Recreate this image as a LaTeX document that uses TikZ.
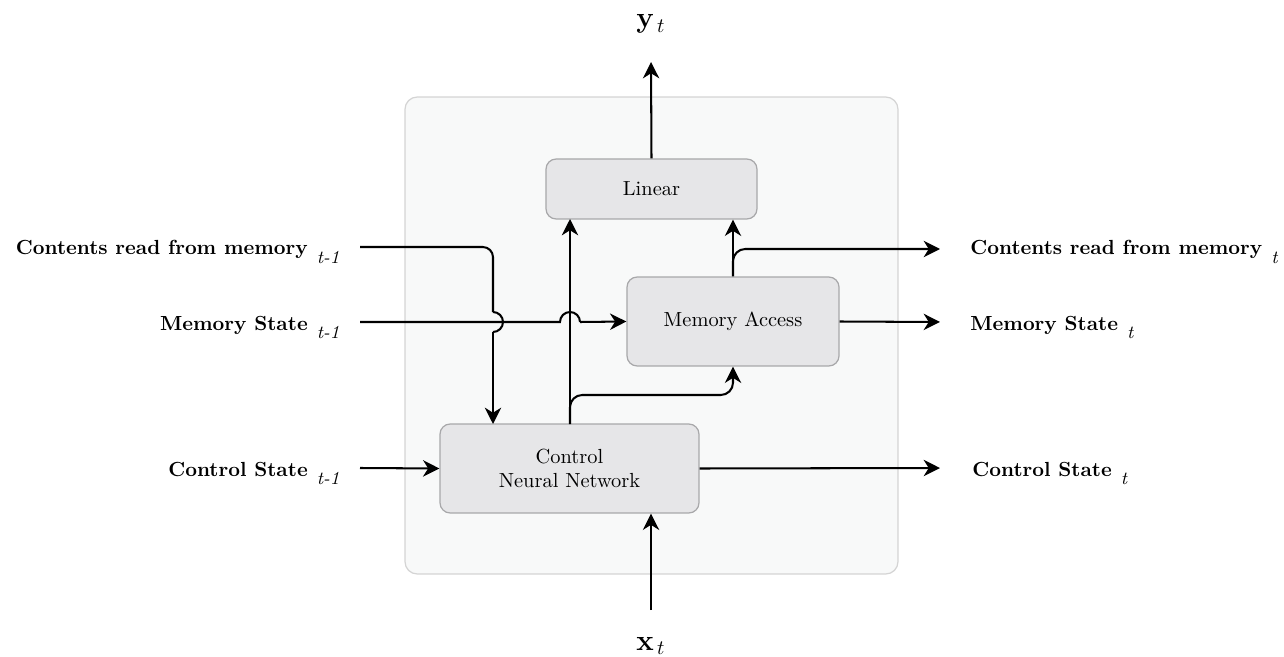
\documentclass[tikz,border=0pt]{standalone}
\usetikzlibrary{arrows.meta}
\definecolor{bgfill}{HTML}{F8F9F9}
\definecolor{bgdraw}{HTML}{D4D4D4}
\definecolor{boxfill}{HTML}{E6E6E8}
\definecolor{boxdraw}{HTML}{A8A8AA}
\newcommand{\lowsub}[1]{\hspace{4.5pt}\raisebox{-4.4pt}{\small\mdseries\itshape #1}}
\begin{document}
\begin{tikzpicture}[x=0.49pt,y=-0.49pt,
  block/.style={draw=boxdraw,fill=boxfill,rounded corners=5pt,line width=0.6pt,align=center,inner sep=0pt},
  arr/.style={-{Stealth[length=8pt,width=8pt,inset=2.5pt]},line width=1pt},
  ln/.style={line width=1pt},
  lbl/.style={font=\bfseries,inner sep=0pt}]
\useasboundingbox (0,0) rectangle (1284,657);
% background
\draw[draw=bgdraw,fill=bgfill,line width=0.6pt,rounded corners=6pt] (405,97) rectangle (898,574);
% blocks
\node[block,minimum width=103.4pt,minimum height=29.4pt] (lin) at (651.5,189) {Linear};
\node[block,minimum width=103.9pt,minimum height=43.6pt] (ma) at (733,321.5) {Memory Access};
\node[block,minimum width=126.9pt,minimum height=43.6pt] (nn) at (569.5,468.5) {Control\\Neural Network};
% labels
\node[font=\Large,inner sep=0pt,anchor=base] (yt) at (651,28) {$\mathbf{y}_{\,t}$};
\node[font=\Large,inner sep=0pt,anchor=base] (xt) at (651,650) {$\mathbf{x}_{\,t}$};
\node[lbl,anchor=base east] (cin) at (340,255) {Contents read from memory\lowsub{t-1}};
\node[lbl,anchor=base east] (min) at (340,330) {Memory State\lowsub{t-1}};
\node[lbl,anchor=base east] (sin) at (340,476) {Control State\lowsub{t-1}};
\node[lbl,anchor=base west] (cout) at (970,255) {Contents read from memory\lowsub{t}};
\node[lbl,anchor=base west] (mout) at (970,330) {Memory State\lowsub{t}};
\node[lbl,anchor=base west] (sout) at (972,476) {Control State\lowsub{t}};
% coordinates
\coordinate (cinS) at (360,247);
\coordinate (minS) at (360,322);
\coordinate (sinS) at (360,468);
\coordinate (coutE) at (940,249);
\coordinate (moutE) at (940,322);
\coordinate (soutE) at (940,468);
\coordinate (ytE) at (651,62);
\coordinate (xtS) at (651,610);
% output y
\draw[arr] (lin.north) -- (ytE);
% input x
\draw[arr] (xtS) -- (xtS |- nn.south);
% contents t-1 down into NN with jump
\draw[ln,rounded corners=5pt] (cinS) -- (493,247) -- (493,312);
\draw[ln] (493,312) arc[start angle=90,end angle=-90,radius=4.9pt];
\draw[arr] (493,332) -- (493,424);
% memory state t-1 into memory access with hop
\draw[ln] (minS) -- (560,322) arc[start angle=180,end angle=0,radius=4.9pt];
\draw[arr] (580,322) -- (ma.west);
% control state
\draw[arr] (sinS) -- (nn.west);
\draw[arr] (nn.east) -- (soutE);
% NN up to linear and to memory access
\draw[arr] (570,424) -- (570,219);
\draw[arr,rounded corners=6pt] (570,424) -- (570,395) -- (733,395) -- (ma.south);
% memory access to linear and to contents t
\draw[arr] (ma.north) -- (lin.south -| ma.north);
\draw[arr,rounded corners=6pt] (ma.north) -- (733,249) -- (coutE);
\draw[arr] (ma.east) -- (moutE);
\end{tikzpicture}
\end{document}
